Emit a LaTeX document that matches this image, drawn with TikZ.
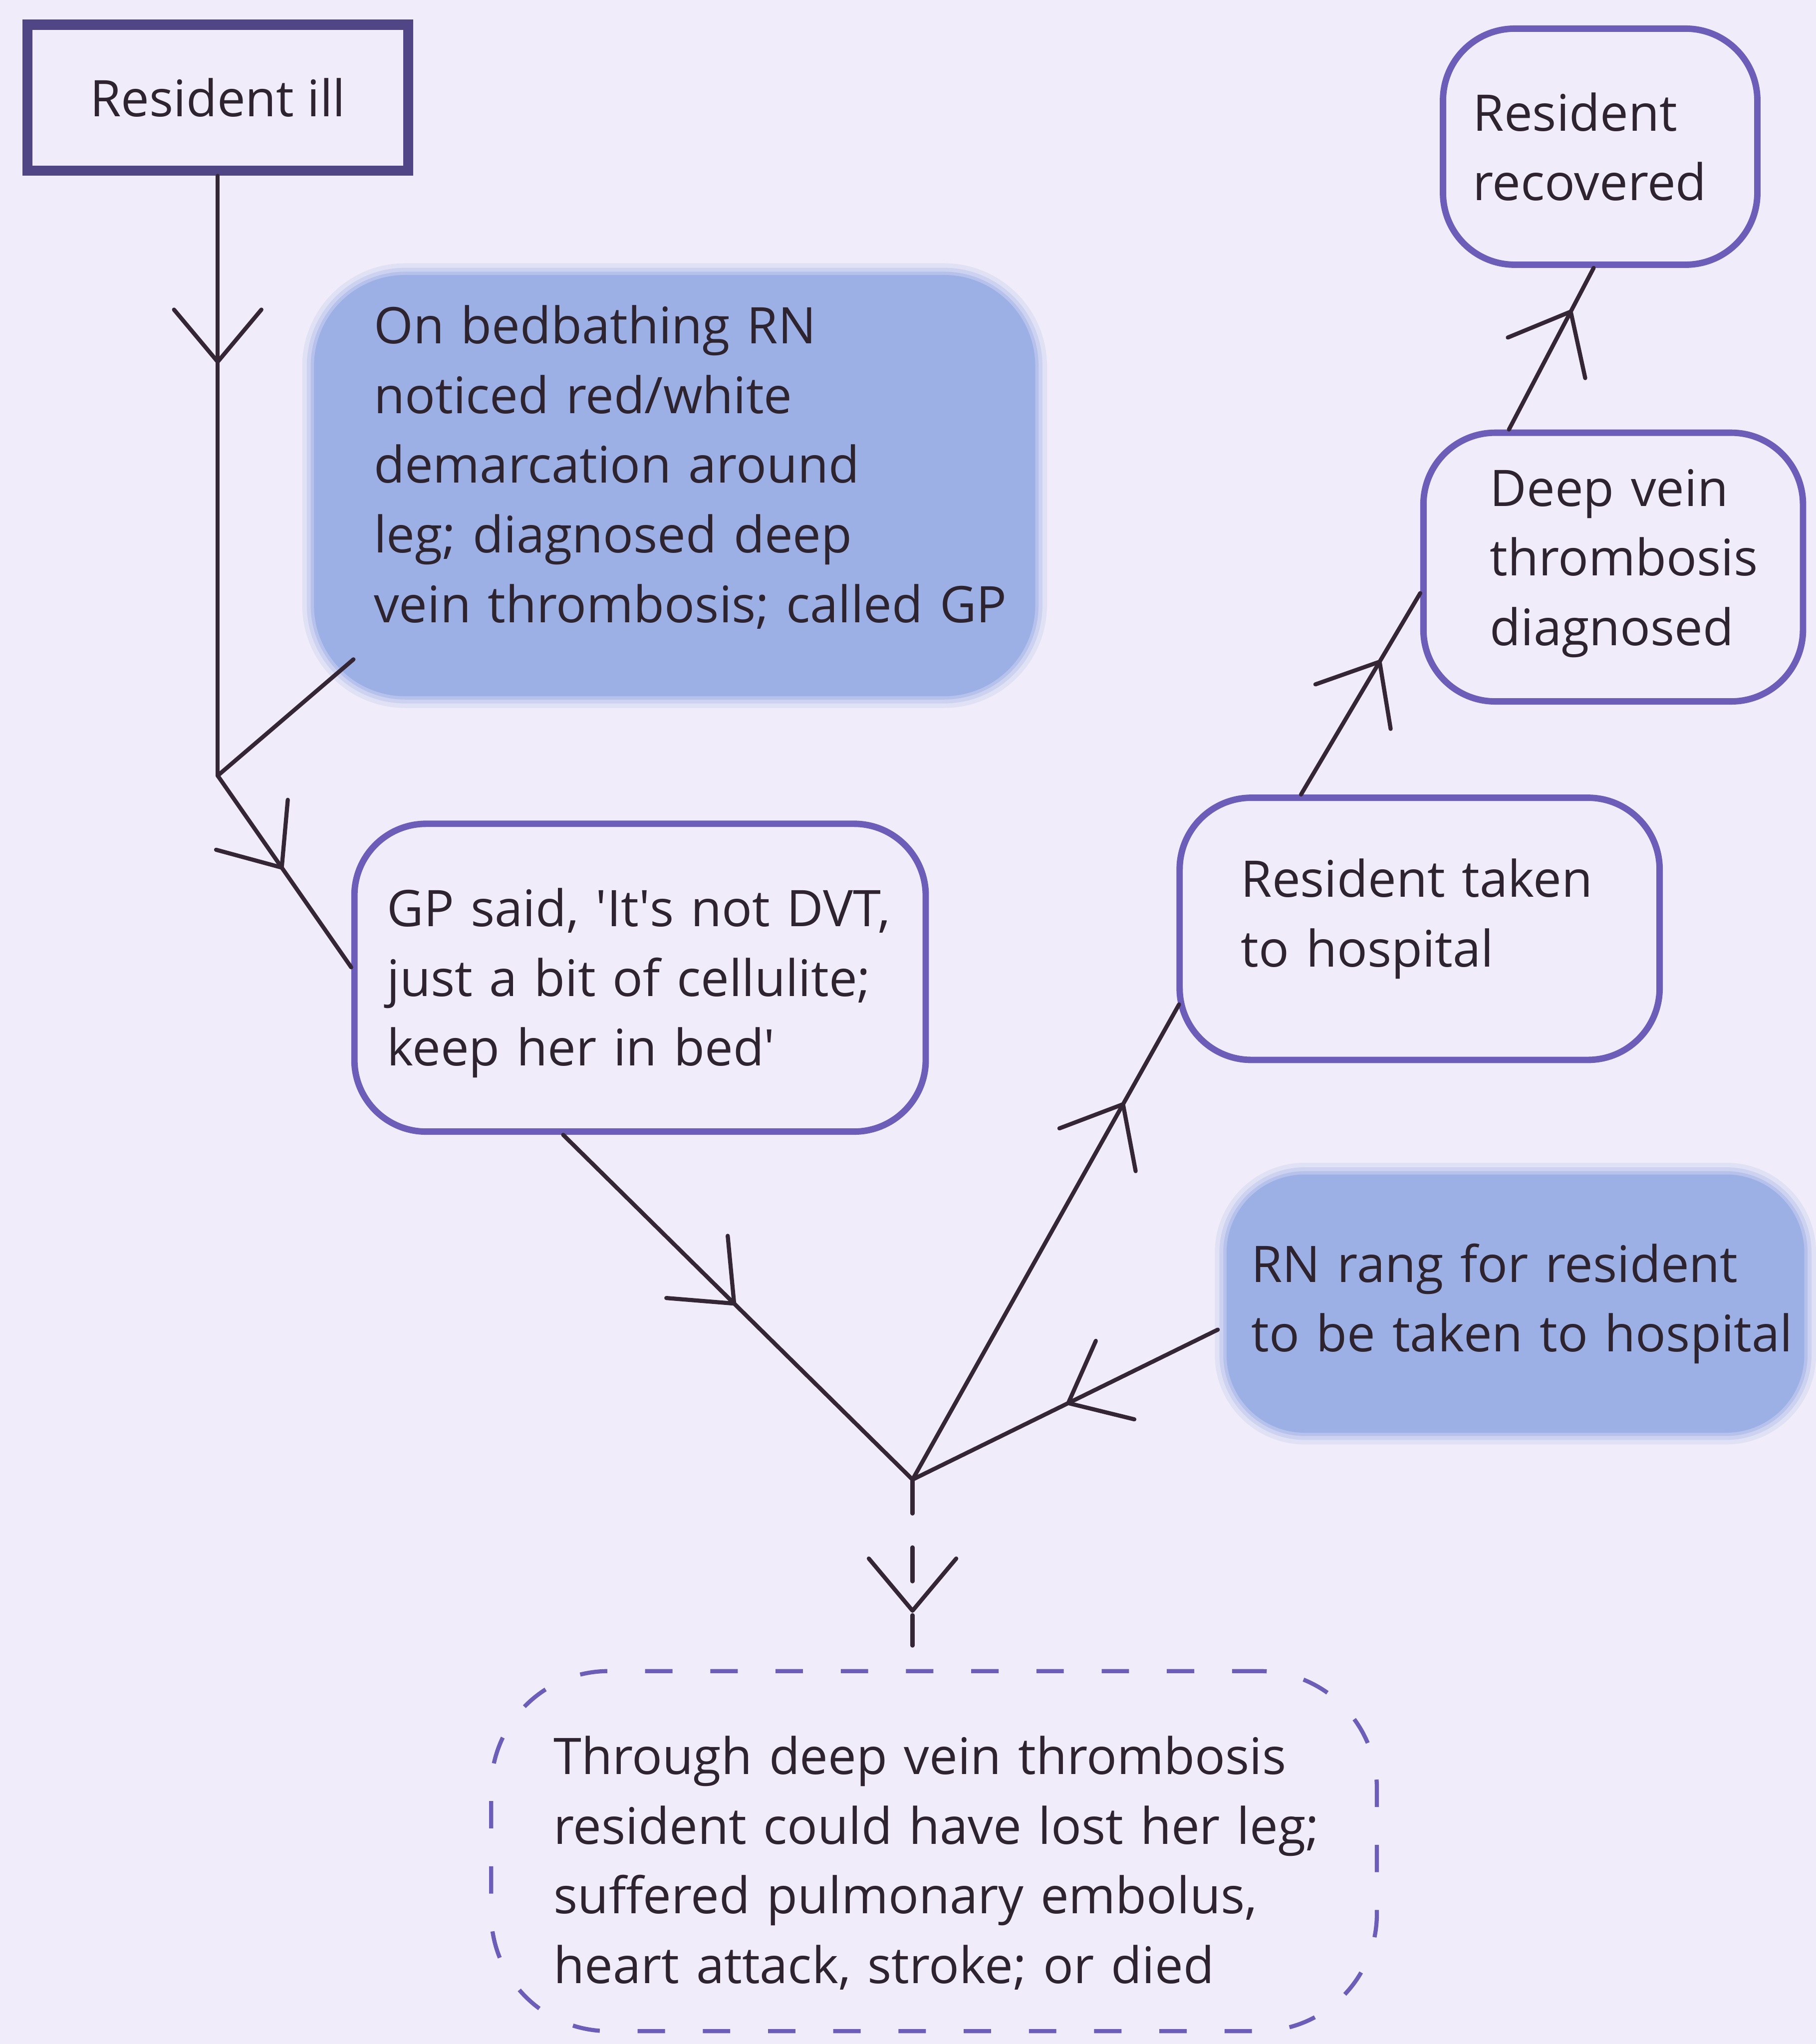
\documentclass[tikz,border=0pt]{standalone}
\usepackage{fontspec}
\setmainfont{Open Sans}
\usetikzlibrary{calc,decorations.markings}

\definecolor{paper}{RGB}{241,236,249}
\definecolor{ink}{RGB}{45,36,48}
\definecolor{linkink}{RGB}{52,38,52}
\definecolor{frame}{RGB}{108,94,184}
\definecolor{framedark}{RGB}{80,70,134}
\definecolor{blob}{RGB}{157,176,229}

\tikzset{
  txt/.style={font=\fontsize{11}{15.2}\selectfont, text=ink, align=left},
  startbox/.style={txt, draw=framedark, line width=2.2pt, align=center, inner sep=0pt},
  eventbox/.style={txt, draw=frame, line width=1.4pt, rounded corners=0.55cm, inner ysep=0pt},
  blobbox/.style={txt, fill=blob, rounded corners=0.7cm, inner ysep=0pt,
    preaction={draw=blob, line width=0.18cm, opacity=0.18},
    preaction={draw=blob, line width=0.11cm, opacity=0.3},
    preaction={draw=blob, line width=0.05cm, opacity=0.45}},
  outcomebox/.style={txt, draw=frame, line width=0.9pt, dash pattern=on 0.21cm off 0.29cm,
    rounded corners=0.9cm, inner ysep=0pt},
  link/.style={draw=linkink, line width=0.9pt, line cap=round},
  chev/.style={postaction={decorate, decoration={markings, mark=at position #1 with
    {\draw[solid, line width=0.9pt, draw=linkink, line cap=round, line join=round]
      (-0.4cm,0.335cm) -- (0,0) -- (-0.4cm,-0.335cm);}}}},
}

\begin{document}
\begin{tikzpicture}[x=0.01cm, y=-0.01cm]
  \fill[paper] (0,0) rectangle (1393,1568);
  \useasboundingbox (0,0) rectangle (1393,1568);

  % boxes (text depth tunes where each text block sits inside its frame)
  \node[startbox, minimum width=2.92cm, minimum height=1.12cm] (ill) at (167,75) {Resident ill};

  \node[blobbox, text width=4.61cm, inner xsep=0.46cm, minimum height=3.23cm, text depth=2.47cm]
    (blob1) at (517.5,372.5)
    {\mbox{On bedbathing RN}\\ \mbox{noticed red/white}\\ \mbox{demarcation around}\\
     \mbox{leg; diagnosed deep}\\ \mbox{vein thrombosis; called GP}};

  \node[eventbox, text width=3.88cm, inner xsep=0.25cm, minimum height=2.36cm, text depth=1.08cm]
    (gp) at (491,750)
    {\mbox{GP said, \textquotesingle It\textquotesingle s not DVT,}\\ \mbox{just a bit of cellulite;}\\
     \mbox{keep her in bed\textquotesingle}};

  \node[eventbox, text width=2.74cm, inner xsep=0.47cm, minimum height=2.01cm, text depth=0.78cm]
    (hosp) at (1089,712.5)
    {\mbox{Resident taken}\\ \mbox{to hospital}};

  \node[eventbox, text width=1.89cm, inner xsep=0.51cm, minimum height=2.06cm, text depth=1.22cm]
    (dvt) at (1237.5,435)
    {\mbox{Deep vein}\\ \mbox{thrombosis}\\ \mbox{diagnosed}};

  \node[eventbox, text width=1.95cm, inner xsep=0.23cm, minimum height=1.81cm] (rec) at (1227.5,112.5)
    {\mbox{Resident}\\ \mbox{recovered}};

  \node[blobbox, rounded corners=0.6cm, text width=4.05cm, inner xsep=0.19cm, minimum height=1.98cm]
    (rn) at (1162.5,1000)
    {\mbox{RN rang for resident}\\ \mbox{to be taken to hospital}};

  \node[outcomebox, text width=5.83cm, inner xsep=0.48cm, minimum height=2.76cm, text depth=1.47cm]
    (outcome) at (716.5,1420)
    {\mbox{Through deep vein thrombosis}\\ \mbox{resident could have lost her leg;}\\
     \mbox{suffered pulmonary embolus,}\\ \mbox{heart attack, stroke; or died}};

  % junctions
  \coordinate (j1) at (167,595);
  \coordinate (j2) at (700,1135);

  % connectors
  \draw[link, chev=0.31] (ill.south) -- (j1);
  \draw[link] ($(blob1.south west)+(31,-29)$) -- (j1);
  \draw[link, chev=0.48] (j1) -- ($(gp.west)+(0,-8)$);
  \draw[link, chev=0.49] ($(gp.south)+(-59,0)$) -- (j2);
  \draw[link, chev=0.79] (j2) -- ($(hosp.south west)+(2,-45)$);
  \draw[link, chev=0.49] ($(rn.west)+(-6,20)$) -- (j2);
  \draw[link, dash pattern=on 0.26cm off 0.26cm, chev=0.79] (j2) -- ($(j2 |- outcome.north)+(0,-18)$);
  \draw[link, chev=0.66] ($(hosp.north)+(-91,0)$) -- ($(dvt.west)+(0,20)$);
  \draw[link, chev=0.73] ($(dvt.north)+(-80,0)$) -- ($(rec.south)+(-5,0)$);
\end{tikzpicture}
\end{document}
